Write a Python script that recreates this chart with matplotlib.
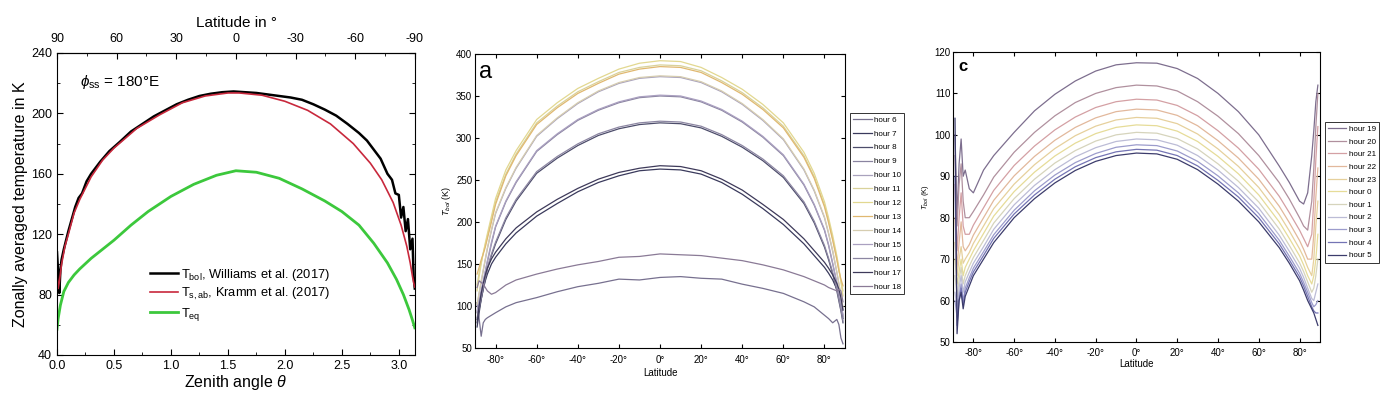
import numpy as np
import matplotlib.pyplot as plt
from matplotlib.ticker import MultipleLocator

plt.rcParams['font.family'] = ['Liberation Sans', 'DejaVu Sans']
plt.rcParams['mathtext.fontset'] = 'custom'
plt.rcParams['mathtext.rm'] = 'Liberation Sans'
plt.rcParams['mathtext.it'] = 'Liberation Sans:italic'
plt.rcParams['axes.unicode_minus'] = False

# ---- left panel: zonal mean vs zenith angle ----
theta_w = [0.0, 0.01, 0.02, 0.03, 0.04, 0.06, 0.08, 0.1, 0.13, 0.16, 0.19, 0.22, 0.26, 0.3,
           0.38, 0.46, 0.55, 0.65, 0.75, 0.85, 0.95, 1.05, 1.15, 1.25, 1.35, 1.45, 1.55, 1.65,
           1.75, 1.85, 1.95, 2.05, 2.15, 2.25, 2.35, 2.45, 2.55, 2.65, 2.72, 2.78, 2.84, 2.9,
           2.94, 2.97, 3.0, 3.02, 3.04, 3.06, 3.08, 3.1, 3.12, 3.13, 3.14]
t_williams = [108, 95, 81, 96, 103, 110, 116, 122, 130, 138, 144, 147, 155, 160,
              168, 175, 181, 188, 193, 198, 202, 206, 209, 211.5, 213, 214, 214.5, 214,
              213.5, 212.5, 211.5, 210.5, 209, 206, 202.5, 198.5, 193, 187, 182, 176, 170, 160,
              156, 147, 146, 131, 138, 122, 130, 110, 117, 92, 84]

theta_k = [0.0, 0.01, 0.02, 0.04, 0.07, 0.1, 0.15, 0.2, 0.3, 0.4, 0.5, 0.7, 0.9, 1.1, 1.3,
           1.5, 1.6, 1.8, 2.0, 2.2, 2.4, 2.6, 2.75, 2.85, 2.95, 3.02, 3.07, 3.1, 3.12, 3.13, 3.14]
t_kramm = [95, 84, 88, 100, 112, 120, 134, 143, 158, 169, 177, 190, 199, 207, 211.5,
           213.5, 213.5, 212, 208, 202, 193, 180, 167, 156, 141, 126, 112, 101, 92, 88, 85]

theta_e = [0.0, 0.01, 0.03, 0.06, 0.1, 0.15, 0.2, 0.3, 0.4, 0.5, 0.65, 0.8, 1.0, 1.2, 1.4,
           1.57, 1.75, 1.95, 2.15, 2.35, 2.5, 2.65, 2.78, 2.9, 2.98, 3.04, 3.09, 3.12, 3.14]
t_eq = [57, 64, 73, 82, 88, 93, 97, 104, 110, 116, 126, 135, 145, 153, 159,
        162, 161, 157, 150, 142, 135, 126, 114, 101, 90, 80, 70, 63, 58]

# ---- shared latitude grid for panels a and c ----
lat = [-89, -88, -87, -86, -85, -84, -82, -80, -75, -70, -60, -50, -40, -30, -20, -10, 0,
       10, 20, 30, 40, 50, 60, 70, 75, 80, 82, 84, 86, 87, 88, 89]

# panel a: daytime hours 6..18
day_labels = ['hour 6', 'hour 7', 'hour 8', 'hour 9', 'hour 10', 'hour 11', 'hour 12',
              'hour 13', 'hour 14', 'hour 15', 'hour 16', 'hour 17', 'hour 18']
day_temps = [
    [104, 85, 64, 80, 84, 86, 89, 92, 99, 104, 110, 117, 123, 127, 132, 131, 134,
     135, 133, 132, 126, 121, 115, 105, 99, 89, 85, 80, 84, 78, 62, 55],
    [75, 92, 108, 120, 130, 138, 150, 158, 174, 187, 207, 222, 236, 247, 255, 261, 263,
     262, 257, 247, 233, 216, 197, 174, 160, 146, 139, 131, 120, 112, 102, 85],
    [84, 96, 108, 120, 132, 144, 160, 174, 203, 225, 258, 276, 291, 303, 311, 316, 318,
     317, 312, 302, 289, 273, 253, 222, 199, 170, 155, 138, 118, 106, 94, 80],
    [92, 104, 116, 128, 140, 152, 174, 194, 224, 247, 284, 304, 321, 333, 342, 348, 350,
     349, 343, 333, 319, 301, 279, 244, 220, 190, 172, 150, 127, 114, 102, 88],
    [100, 115, 128, 142, 155, 168, 190, 210, 240, 264, 302, 323, 341, 355, 365, 371, 373,
     372, 366, 355, 340, 321, 298, 262, 237, 205, 186, 165, 140, 126, 112, 96],
    [125, 140, 152, 163, 173, 183, 203, 224, 257, 281, 318, 338, 355, 367, 378, 384, 387,
     386, 380, 368, 354, 336, 314, 279, 254, 220, 201, 180, 157, 143, 130, 118],
    [118, 135, 150, 163, 175, 186, 207, 228, 262, 285, 322, 342, 359, 371, 382, 389, 392,
     391, 384, 372, 358, 340, 318, 283, 258, 224, 205, 184, 160, 146, 128, 112],
    [138, 146, 155, 162, 170, 180, 200, 221, 255, 279, 316, 336, 353, 365, 376, 382, 385,
     384, 378, 366, 352, 334, 312, 277, 252, 218, 199, 178, 155, 142, 132, 124],
    [102, 116, 130, 143, 156, 169, 191, 211, 241, 265, 303, 324, 342, 356, 366, 372, 374,
     373, 367, 356, 341, 322, 299, 263, 238, 206, 187, 166, 141, 127, 114, 98],
    [94, 106, 118, 130, 142, 154, 176, 195, 225, 248, 285, 305, 322, 334, 343, 349, 351,
     350, 344, 334, 320, 302, 280, 245, 221, 191, 173, 151, 128, 115, 104, 90],
    [86, 98, 110, 122, 134, 146, 162, 176, 205, 227, 260, 278, 293, 305, 313, 318, 320,
     319, 314, 304, 291, 275, 255, 224, 201, 172, 157, 140, 120, 108, 96, 82],
    [80, 100, 115, 127, 137, 145, 156, 164, 180, 193, 212, 227, 240, 251, 259, 264, 267,
     266, 261, 251, 238, 221, 203, 180, 166, 152, 145, 137, 127, 120, 110, 95],
    [122, 130, 128, 126, 122, 118, 114, 116, 125, 131, 138, 144, 149, 153, 158, 159, 162,
     161, 160, 157, 154, 149, 143, 135, 130, 125, 122, 120, 118, 120, 118, 105],
]
day_colors = ['#77708f', '#3a3a5c', '#4d4d6b', '#8a84a0', '#a9a2bd', '#d9d29a', '#e2d890',
              '#e0b870', '#d6cdb0', '#aaa0c0', '#8c86a2', '#3e3a5a', '#8a7a96']

# panel c: night hours 19..5
night_labels = ['hour 19', 'hour 20', 'hour 21', 'hour 22', 'hour 23', 'hour 0', 'hour 1',
                'hour 2', 'hour 3', 'hour 4', 'hour 5']
night_temps = [
    [100, 80, 93, 99, 90, 91.5, 87, 86, 91.5, 95, 100.6, 105.8, 109.8, 113, 115.4, 116.9, 117.4,
     117.3, 116, 113.6, 110, 105.6, 100, 92.5, 88.5, 84, 83.3, 86, 95, 101, 108, 112],
    [95, 78, 88, 93, 84, 80, 80, 81.5, 85.5, 89.8, 95.8, 100.6, 104.6, 107.8, 110, 111.4, 112,
     111.8, 110.6, 108, 104.5, 100.3, 95, 88.5, 84.5, 80, 78, 77, 84, 92, 102, 110],
    [88, 72, 80, 86, 78, 76, 76, 78.2, 82.4, 86.6, 92.6, 97.3, 101.2, 104.3, 106.6, 108, 108.6,
     108.4, 107.1, 104.6, 101, 96.8, 91.7, 85.2, 81.2, 77, 75, 73, 76, 84, 94, 102],
    [80, 68, 74, 79, 73, 72, 73.5, 75.8, 80, 84.2, 90.1, 94.8, 98.7, 101.8, 104.1, 105.6, 106.2,
     106, 104.7, 102.2, 98.6, 94.4, 89.3, 82.8, 78.8, 74.5, 72.4, 70, 70, 76, 85, 92],
    [74, 66, 70, 73, 69, 70, 71.6, 73.8, 78, 82.2, 88.1, 92.8, 96.7, 99.8, 102.1, 103.6, 104.2,
     104, 102.7, 100.2, 96.6, 92.4, 87.3, 80.8, 76.8, 72.5, 70.5, 68, 66, 70, 78, 84],
    [70, 64, 67, 70, 66, 68, 70, 72, 76.2, 80.4, 86.3, 91, 94.9, 98, 100.3, 101.8, 102.4,
     102.2, 100.9, 98.4, 94.8, 90.6, 85.5, 79, 75, 70.8, 68.6, 66, 64, 66, 70, 76],
    [66, 61, 65, 68, 64, 66, 68.3, 70.4, 74.5, 78.7, 84.6, 89.3, 93.2, 96.2, 98.5, 100, 100.6,
     100.4, 99.1, 96.6, 93, 88.8, 83.8, 77.3, 73.3, 69.1, 67, 64.5, 62, 63, 66, 70],
    [62, 58, 63, 66, 62, 64.5, 66.8, 69, 73, 77.2, 83.1, 87.8, 91.6, 94.7, 96.9, 98.4, 99,
     98.8, 97.5, 95, 91.5, 87.3, 82.3, 75.8, 71.9, 67.8, 65.6, 63, 60.5, 60, 62, 64],
    [60, 56, 61, 64, 60, 63, 65.5, 67.8, 71.8, 75.9, 81.8, 86.5, 90.3, 93.3, 95.5, 97, 97.6,
     97.4, 96.1, 93.6, 90.1, 86, 81, 74.6, 70.7, 66.6, 64.4, 62, 59.5, 58.5, 59, 60],
    [90, 54, 60, 63, 59, 62, 64.6, 66.9, 70.9, 75, 80.9, 85.5, 89.3, 92.3, 94.5, 95.9, 96.5,
     96.3, 95, 92.5, 89, 85, 80, 73.7, 69.8, 65.7, 63.5, 61, 58.5, 57.5, 57, 57],
    [104, 52, 60, 62, 58, 61, 63.5, 66, 70, 74, 80, 84.6, 88.4, 91.4, 93.6, 95, 95.6,
     95.4, 94.1, 91.6, 88.1, 84, 79, 72.8, 69, 64.8, 62.5, 60, 58, 57, 55.5, 54],
]
night_colors = ['#7d6e8e', '#b0909e', '#d4a0a4', '#e2b89c', '#e6d09c', '#e6dc98', '#d6d4bc',
                '#bcbcd6', '#9c9ccc', '#7474b4', '#3c3c6c']

fig = plt.figure(figsize=(14, 3.99), dpi=100)

# ---------------- left panel ----------------
ax1 = fig.add_axes([0.0407, 0.1103, 0.2557, 0.757])
ax1.plot(theta_w, t_williams, color='black', lw=1.8,
         label=r'T$_{\mathrm{bol}}$, Williams et al. (2017)')
ax1.plot(theta_k, t_kramm, color='#c8283c', lw=1.2,
         label=r'T$_{\mathrm{s,ab}}$, Kramm et al. (2017)')
ax1.plot(theta_e, t_eq, color='#3cc83c', lw=2.0, label=r'T$_{\mathrm{eq}}$')
ax1.set_xlim(0, np.pi)
ax1.set_ylim(40, 240)
ax1.set_yticks(np.arange(40, 241, 40))
ax1.set_xticks(np.arange(0, 3.01, 0.5))
ax1.set_xticklabels(['0.0', '0.5', '1.0', '1.5', '2.0', '2.5', '3.0'])
ax1.xaxis.set_minor_locator(MultipleLocator(0.25))
ax1.yaxis.set_minor_locator(MultipleLocator(20))
ax1.tick_params(which='both', direction='in', right=True, labelsize=9)
ax1.tick_params(which='major', length=4)
ax1.tick_params(which='minor', length=2)
ax1.set_xlabel(r'Zenith angle $\theta$', fontsize=11.5, labelpad=1)
ax1.set_ylabel('Zonally averaged temperature in K', fontsize=11.5, labelpad=2)
ax1.text(0.2, 218, r'$\phi_{\mathrm{ss}}$ = 180°E', fontsize=11)
ax1.legend(loc='lower left', bbox_to_anchor=(0.245, 0.09), frameon=False, fontsize=9.3,
           handlelength=2.2, handletextpad=0.2, labelspacing=0.26, borderaxespad=0)

top = ax1.secondary_xaxis('top', functions=(lambda t: 90 - np.degrees(t),
                                            lambda l: np.radians(90 - l)))
top.set_xticks([90, 60, 30, 0, -30, -60, -90])
top.xaxis.set_minor_locator(MultipleLocator(15))
top.tick_params(which='both', direction='in', labelsize=9, pad=6)
top.tick_params(which='major', length=4)
top.tick_params(which='minor', length=2)
top.set_xlabel('Latitude in °', fontsize=11, labelpad=4)

# ---------------- panel a ----------------
lat_ticks = [-80, -60, -40, -20, 0, 20, 40, 60, 80]
lat_ticklabels = [f'{v}°' for v in lat_ticks]

ax2 = fig.add_axes([0.3393, 0.1278, 0.2643, 0.7369])
for temps, lab, col in zip(day_temps, day_labels, day_colors):
    ax2.plot(lat, temps, color=col, lw=0.9, label=lab)
ax2.set_xlim(-90, 90)
ax2.set_ylim(50, 400)
ax2.set_yticks(np.arange(50, 401, 50))
ax2.set_xticks(lat_ticks)
ax2.set_xticklabels(lat_ticklabels)
ax2.tick_params(direction='in', top=True, right=True, length=3, labelsize=7, pad=2)
ax2.tick_params(axis='x', pad=5)
ax2.set_xlabel('Latitude', fontsize=7, labelpad=2)
ax2.set_ylabel(r'$T_{bol}$ (K)', fontsize=6.5, labelpad=2)
ax2.text(-88, 372, 'a', fontsize=17)
leg2 = ax2.legend(loc='upper left', bbox_to_anchor=(1.013, 0.80), fontsize=5.8,
                  handlelength=2.3, handletextpad=0.3, labelspacing=0.78, borderpad=0.4,
                  borderaxespad=0, fancybox=False, framealpha=1)
leg2.get_frame().set_edgecolor('#333333')
leg2.get_frame().set_linewidth(0.7)

# ---------------- panel c ----------------
ax3 = fig.add_axes([0.6807, 0.1429, 0.2621, 0.7268])
for temps, lab, col in zip(night_temps, night_labels, night_colors):
    ax3.plot(lat, temps, color=col, lw=0.9, label=lab)
ax3.set_xlim(-90, 90)
ax3.set_ylim(50, 120)
ax3.set_yticks(np.arange(50, 121, 10))
ax3.set_xticks(lat_ticks)
ax3.set_xticklabels(lat_ticklabels)
ax3.tick_params(direction='in', top=True, right=True, length=3, labelsize=7, pad=2)
ax3.tick_params(axis='x', pad=4)
ax3.set_xlabel('Latitude', fontsize=7, labelpad=1)
ax3.set_ylabel(r'$T_{bol}$ (K)', fontsize=5.5, labelpad=2)
ax3.text(-87.5, 115.3, 'c', fontsize=12, fontweight='bold')
leg3 = ax3.legend(loc='upper left', bbox_to_anchor=(1.013, 0.758), fontsize=5.8,
                  handlelength=2.3, handletextpad=0.3, labelspacing=0.62, borderpad=0.4,
                  borderaxespad=0, fancybox=False, framealpha=1)
leg3.get_frame().set_edgecolor('#333333')
leg3.get_frame().set_linewidth(0.7)

fig.savefig('out.png', dpi=100)
